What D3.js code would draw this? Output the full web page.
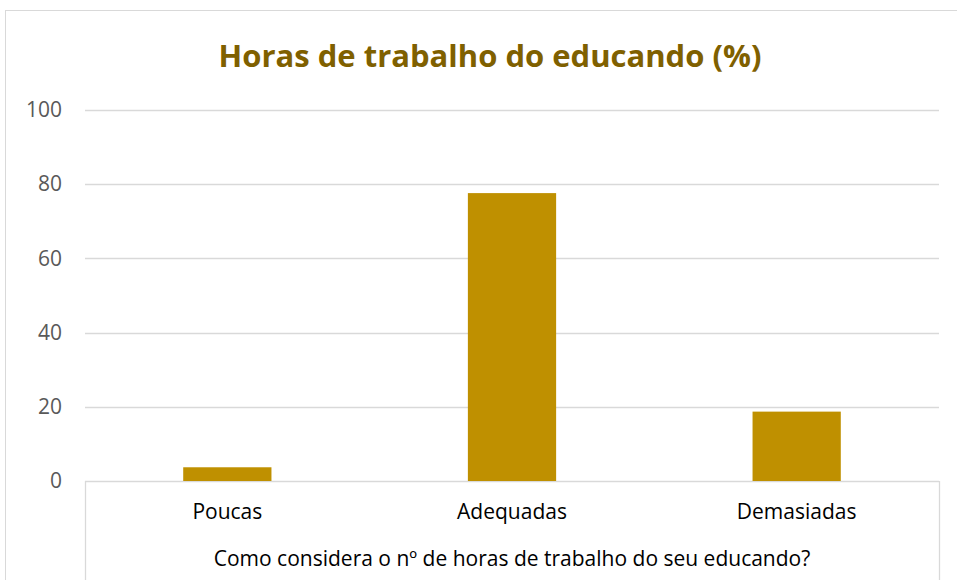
<!DOCTYPE html>
<html lang="pt">
<head>
  <meta charset="UTF-8">
  <title>Horas de trabalho do educando (%)</title>
  <style>
    body { margin: 0; background: #fff; }
    svg { display: block; font-family: "Open Sans", "Noto Sans", sans-serif; }
  </style>
</head>
<body>
  <svg></svg>
  <script src="https://d3js.org/d3.v7.min.js"></script>
  <script>
    const categories = ["Poucas", "Adequadas", "Demasiadas"];
    const values = [3.7, 77.6, 18.7];
    const yTicks = [0, 20, 40, 60, 80, 100];

    const width = 957;
    const height = 580;
    const margin = { top: 110, right: 18, bottom: 99, left: 85 };

    const svg = d3.select("svg")
      .attr("width", width)
      .attr("height", height);

    // outer chart frame
    svg.append("rect")
      .attr("x", 5.5).attr("y", 10.5)
      .attr("width", width + 10).attr("height", height + 10)
      .attr("fill", "none")
      .attr("stroke", "#d9d9d9");

    const x = d3.scaleBand()
      .domain(categories)
      .range([margin.left, width - margin.right])
      .paddingInner(0.69)
      .paddingOuter(0.345);

    const y = d3.scaleLinear()
      .domain([0, 100])
      .range([height - margin.bottom, margin.top]);

    // gridlines
    svg.append("g")
      .selectAll("line")
      .data(yTicks)
      .join("line")
      .attr("x1", margin.left)
      .attr("x2", width - margin.right)
      .attr("y1", d => Math.round(y(d)) + 0.5)
      .attr("y2", d => Math.round(y(d)) + 0.5)
      .attr("stroke", "#d9d9d9")
      .attr("stroke-width", 1.3);

    // y axis labels
    const yAxis = svg.append("g")
      .attr("transform", `translate(${margin.left - 23},0)`)
      .call(d3.axisLeft(y).tickValues(yTicks).tickSize(0).tickPadding(0));
    yAxis.select(".domain").remove();
    yAxis.selectAll("text")
      .attr("fill", "#595959")
      .style("font-size", "21px")
      .style("font-family", "'Open Sans', sans-serif");

    // category area side lines
    [margin.left, width - margin.right].forEach(px => {
      svg.append("line")
        .attr("x1", px + 0.5).attr("x2", px + 0.5)
        .attr("y1", y(0)).attr("y2", height)
        .attr("stroke", "#d9d9d9")
        .attr("stroke-width", 1.3);
    });

    // bars
    svg.append("g")
      .selectAll("rect")
      .data(values)
      .join("rect")
      .attr("x", (d, i) => x(categories[i]))
      .attr("y", d => y(d))
      .attr("width", x.bandwidth())
      .attr("height", d => y(0) - y(d))
      .attr("fill", "#bf9000");

    // category labels
    const xAxis = svg.append("g")
      .attr("transform", `translate(0,${y(0)})`)
      .call(d3.axisBottom(x).tickSize(0).tickPadding(0));
    xAxis.select(".domain").remove();
    xAxis.selectAll("text")
      .attr("dy", null)
      .attr("y", 38)
      .attr("fill", "#000")
      .style("font-size", "21px")
      .style("font-family", "'Open Sans', sans-serif");

    // axis title
    svg.append("text")
      .attr("x", (margin.left + width - margin.right) / 2)
      .attr("y", 566)
      .attr("text-anchor", "middle")
      .attr("fill", "#000")
      .style("font-size", "21px")
      .text("Como considera o nº de horas de trabalho do seu educando?");

    // chart title
    svg.append("text")
      .attr("x", 490)
      .attr("y", 67)
      .attr("text-anchor", "middle")
      .attr("fill", "#7f6000")
      .style("font-size", "31px")
      .style("font-weight", "bold")
      .text("Horas de trabalho do educando (%)");
  </script>
</body>
</html>
